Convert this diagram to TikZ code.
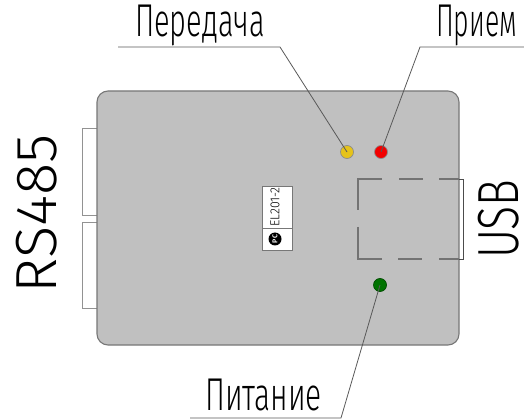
\documentclass[tikz,border=0pt]{standalone}
\usepackage{fontspec}
\setmainfont{Fira Sans Light}[Scale=1]
\definecolor{bodygrey}{HTML}{C0C0C0}
\definecolor{edgegrey}{HTML}{777777}
\tikzset{
  casebody/.style={draw=edgegrey,line width=1.1pt,fill=bodygrey,rounded corners=11pt},
  portbox/.style={draw=edgegrey!80,line width=0.8pt,fill=white},
  leader/.style={draw=black!65,line width=0.8pt},
  usbdash/.style={draw=black!55,line width=1.3pt},
  led/.style={circle,draw=black!45,line width=0.7pt,minimum size=13pt,inner sep=0pt},
  lbl/.style={inner sep=0pt,anchor=base west,text=black},
}
\begin{document}
\begin{tikzpicture}[x=1pt,y=-1pt]
\useasboundingbox (0,0) rectangle (524,419);
% ports
\draw[portbox] (97,128) -- (82,128) -- (82,215) -- (97,215);
\draw[portbox] (97,222) -- (82,222) -- (82,308) -- (97,308);
% body
\path[casebody] (97,91) rectangle (459,345);
% USB
\coordinate (ub) at (463,179);
\coordinate (uc) at (463,259);
\draw[usbdash] (382,179) -- (358,179) -- (358,210);
\draw[usbdash] (358,227) -- (358,259) -- (382,259);
\draw[usbdash] (399,179) -- (423,179);
\draw[usbdash] (398,259) -- (422,259);
\draw[usbdash] (439,179) -- (459,179);
\draw[usbdash] (439,259) -- (459,259);
\draw[draw=black!70,line width=0.6pt] (459,179) -- (ub) -- (uc) -- (459,259);
% LEDs
\node[led,fill=yellow!85!red!90!black] (ledy) at (347,152) {};
\node[led,fill=red!95!black] (ledr) at (381,152) {};
\node[led,fill=green!45!black,draw=green!30!black] (ledg) at (380,285) {};
% leaders
\coordinate (t1) at (118,47); \coordinate (k1) at (280,47);
\coordinate (t2) at (524,47); \coordinate (k2) at (420,47);
\coordinate (t3) at (190,418); \coordinate (k3) at (341,418);
\draw[leader] (t1) -- (k1) -- (ledy.center);
\draw[leader] (t2) -- (k2) -- (ledr.center);
\draw[leader] (t3) -- (k3) -- (ledg.center);
% tag
\node[draw=edgegrey,line width=0.8pt,fill=white,minimum width=30pt,minimum height=42pt,inner sep=0pt] (tagtop) at (277,207) {};
\node[draw=edgegrey,line width=0.8pt,fill=white,minimum width=30pt,minimum height=22pt,inner sep=0pt] (tagbot) at (277,239) {};
\node[rotate=90,inner sep=0pt,font=\fontsize{13pt}{13pt}\selectfont,xscale=.95] (eltext) at (275,207) {EL201-2};
\node[circle,fill=black,minimum size=13pt,inner sep=0pt,rotate=90,text=white,font=\fontsize{7pt}{7pt}\selectfont\bfseries] (logo) at (275,239) {PC};
% labels
\node[lbl,font=\fontsize{46pt}{46pt}\selectfont,xscale=.63] (peredacha) at (135,37) {Передача};
\node[lbl,font=\fontsize{46pt}{46pt}\selectfont,xscale=.58] (priem) at (436,37) {Прием};
\node[lbl,font=\fontsize{46pt}{46pt}\selectfont,xscale=.65] (pitanie) at (205,410) {Питание};
\node[inner sep=0pt,rotate=90,anchor=base west,xscale=1.03,font=\fontsize{58pt}{58pt}\selectfont] (rs) at (56,294) {RS485};
\node[inner sep=0pt,rotate=90,anchor=base west,xscale=.77,font=\fontsize{58pt}{58pt}\selectfont] (usb) at (518,259) {USB};
\end{tikzpicture}
\end{document}
